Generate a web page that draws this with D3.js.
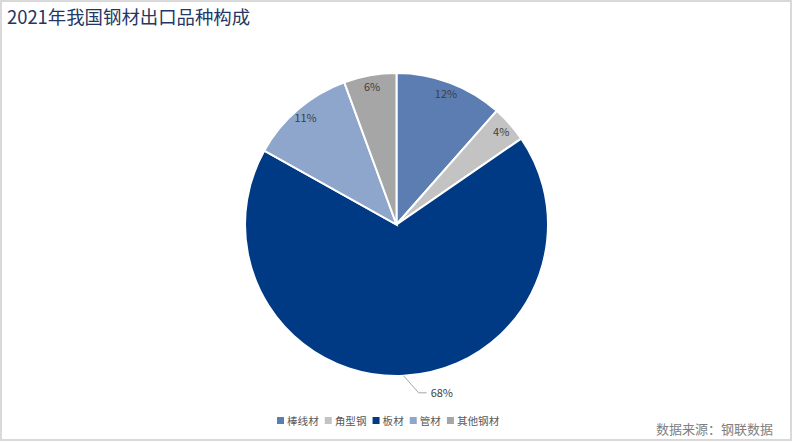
<!DOCTYPE html>
<html>
<head>
<meta charset="utf-8">
<script src="https://cdn.jsdelivr.net/npm/d3@7"></script>
<style>
  body { margin: 0; background: #fff; }
  svg { display: block; font-family: "Noto Sans CJK SC", "Microsoft YaHei", sans-serif; }
</style>
</head>
<body>
<div id="wrapper"></div>
<script>
// data
const categories = ["棒线材", "角型钢", "板材", "管材", "其他钢材"];
const shares = [11.5, 3.9, 67.7, 11.3, 5.6];
const colors = ["#5b7db1", "#c3c3c3", "#003a84", "#8ea6cb", "#a6a6a6"];

const width = 793, height = 442;
const cx = 396.5, cy = 224.5, radius = 151.5;

const svg = d3.select("#wrapper").append("svg")
    .attr("width", width)
    .attr("height", height);

// frame
svg.append("rect")
    .attr("x", 1).attr("y", 1)
    .attr("width", width - 3).attr("height", height - 3)
    .attr("fill", "none")
    .attr("stroke", "#d9d9d9")
    .attr("stroke-width", 2);

svg.append("text")
    .attr("x", 7).attr("y", 24)
    .attr("font-size", 18.4)
    .attr("fill", "#1f3864")
    .text("2021年我国钢材出口品种构成");

const dataset = categories.map((c, i) => ({ name: c, value: shares[i], color: colors[i] }));

const pie = d3.pie().sort(null).value(d => d.value);
const arcs = pie(dataset);
const arc = d3.arc().innerRadius(0).outerRadius(radius);
const labelArc = d3.arc().innerRadius(140).outerRadius(140);

const g = svg.append("g").attr("transform", `translate(${cx},${cy})`);

g.selectAll("path")
    .data(arcs)
    .join("path")
    .attr("d", arc)
    .attr("fill", d => d.data.color)
    .attr("stroke", "#fff")
    .attr("stroke-width", 2);

const fmt = v => Math.round(v) + "%";

// small slices get the label inside, the big one outside with a leader
arcs.forEach(d => {
    const mid = (d.startAngle + d.endAngle) / 2;
    if (d.data.value > 50) {
        const x0 = Math.sin(mid) * radius, y0 = -Math.cos(mid) * radius;
        const x1 = x0 + 15, y1 = y0 + 17;
        const x2 = x1 + 8;
        g.append("polyline")
            .attr("points", [[x0, y0], [x1, y1], [x2, y1]].map(p => p.join(",")).join(" "))
            .attr("fill", "none")
            .attr("stroke", "#a6a6a6")
            .attr("stroke-width", 1);
        g.append("text")
            .attr("x", x2 + 4).attr("y", y1 + 4)
            .attr("font-size", 11)
            .attr("fill", "#404040")
            .text(fmt(d.data.value));
    } else {
        const [lx, ly] = labelArc.centroid(d);
        g.append("text")
            .attr("x", lx).attr("y", ly + 4)
            .attr("text-anchor", "middle")
            .attr("font-size", 11)
            .attr("fill", "#404040")
            .text(fmt(d.data.value));
    }
});

// legend
const legend = svg.append("g").attr("transform", "translate(277,421)");
let lx = 0;
dataset.forEach(d => {
    const item = legend.append("g").attr("transform", `translate(${lx},0)`);
    item.append("rect")
        .attr("x", 0).attr("y", -4)
        .attr("width", 7).attr("height", 7)
        .attr("fill", d.color);
    const t = item.append("text")
        .attr("x", 10).attr("y", 4)
        .attr("font-size", 10.6)
        .attr("fill", "#595959")
        .text(d.name);
    lx += 10 + t.node().getComputedTextLength() + 6;
});

svg.append("text")
    .attr("x", 773).attr("y", 434)
    .attr("text-anchor", "end")
    .attr("font-size", 13)
    .attr("fill", "#7f7f7f")
    .text("数据来源：钢联数据");
</script>
</body>
</html>
